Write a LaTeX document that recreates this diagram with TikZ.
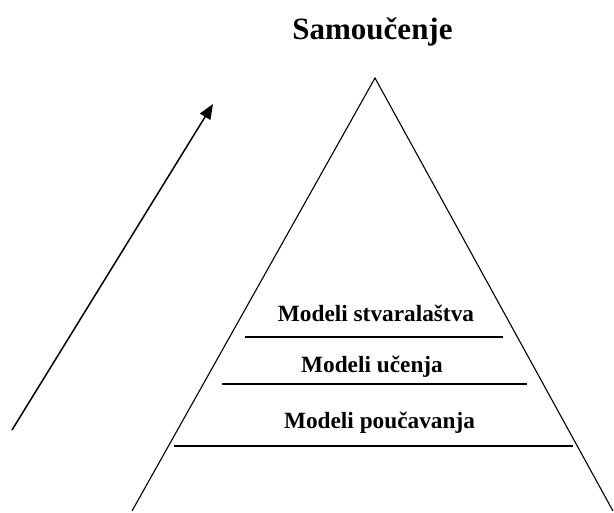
\documentclass[tikz,border=0pt]{standalone}
\usepackage{fontspec}
\setmainfont{Liberation Serif}
\usetikzlibrary{arrows.meta}
\begin{document}
\begin{tikzpicture}[x=1pt,y=-1pt,
  lbl/.style={font=\fontsize{23.3}{26}\selectfont\bfseries, inner sep=0pt},
  ttl/.style={font=\fontsize{31}{34}\selectfont\bfseries, inner sep=0pt},
  side/.style={line width=1.1pt},
  bar/.style={line width=1.8pt},
  arr/.style={line width=1.5pt,-{Triangle[length=15pt,width=12pt]}}]
\useasboundingbox (0,0) rectangle (614,513);
\coordinate (apex) at (375,78);
\coordinate (bl) at (132,511);
\coordinate (br) at (613,511);
\draw[side] (bl) -- (apex) -- (br);
\coordinate (a1) at (245,337); \coordinate (b1) at (503,337);
\coordinate (a2) at (222,384); \coordinate (b2) at (527,384);
\coordinate (a3) at (174,446); \coordinate (b3) at (573,446);
\draw[bar] (a1) -- (b1);
\draw[bar] (a2) -- (b2);
\draw[bar] (a3) -- (b3);
\node[ttl] (title) at (372.5,32) {Samoučenje};
\node[lbl] (l1) at (376,313) {Modeli stvaralaštva};
\node[lbl] (l2) at (372,367) {Modeli učenja};
\node[lbl] (l3) at (379.5,423) {Modeli poučavanja};
\coordinate (t) at (12,430);
\coordinate (h) at (213,104);
\draw[arr] (t) -- (h);
\end{tikzpicture}
\end{document}
